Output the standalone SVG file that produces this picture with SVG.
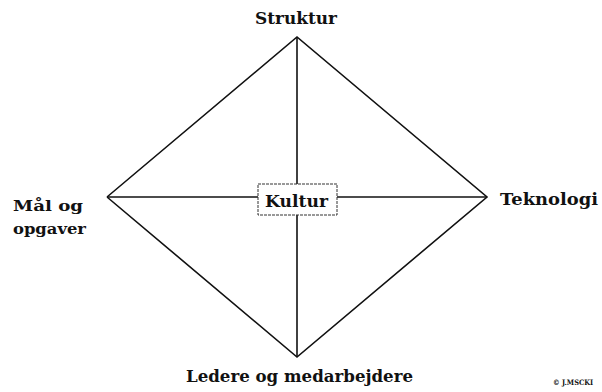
<svg xmlns="http://www.w3.org/2000/svg" width="602" height="392" viewBox="0 0 602 392">
<style>
.lbl{font-family:"DejaVu Serif","Liberation Serif",serif;font-weight:bold;fill:#111;}
.ln{stroke:#111;stroke-width:1.6;fill:none;stroke-linejoin:miter;}
</style>
<rect width="602" height="392" fill="#fff"/>
<g id="connectors">
<polyline class="ln" points="107,197 297,37 487,197 297,357 107,197"/>
<line class="ln" x1="297" y1="37" x2="297" y2="184"/>
<line class="ln" x1="297" y1="215" x2="297" y2="357"/>
<line class="ln" x1="107" y1="197" x2="258" y2="197"/>
<line class="ln" x1="337" y1="197" x2="487" y2="197"/>
</g>
<g id="node-struktur"><text class="lbl" x="255" y="24" font-size="16" textLength="82" lengthAdjust="spacingAndGlyphs">Struktur</text></g>
<g id="node-kultur">
<rect x="258" y="184" width="79" height="31" fill="#fff" stroke="#333" stroke-width="1" stroke-dasharray="3,1"/>
<text class="lbl" x="265" y="207" font-size="16" textLength="63" lengthAdjust="spacingAndGlyphs">Kultur</text>
</g>
<g id="node-maal"><text class="lbl" x="13" y="211" font-size="15" textLength="70" lengthAdjust="spacingAndGlyphs">Mål og</text>
<text class="lbl" x="13" y="234" font-size="15" textLength="73" lengthAdjust="spacingAndGlyphs">opgaver</text></g>
<g id="node-teknologi"><text class="lbl" x="500" y="205" font-size="16" textLength="98" lengthAdjust="spacingAndGlyphs">Teknologi</text></g>
<g id="node-ledere"><text class="lbl" x="186" y="382" font-size="16" textLength="227" lengthAdjust="spacingAndGlyphs">Ledere og medarbejdere</text></g>
<text class="lbl" x="553" y="385" font-size="7.5" textLength="40" lengthAdjust="spacingAndGlyphs">© J.MSCKI</text>
</svg>
